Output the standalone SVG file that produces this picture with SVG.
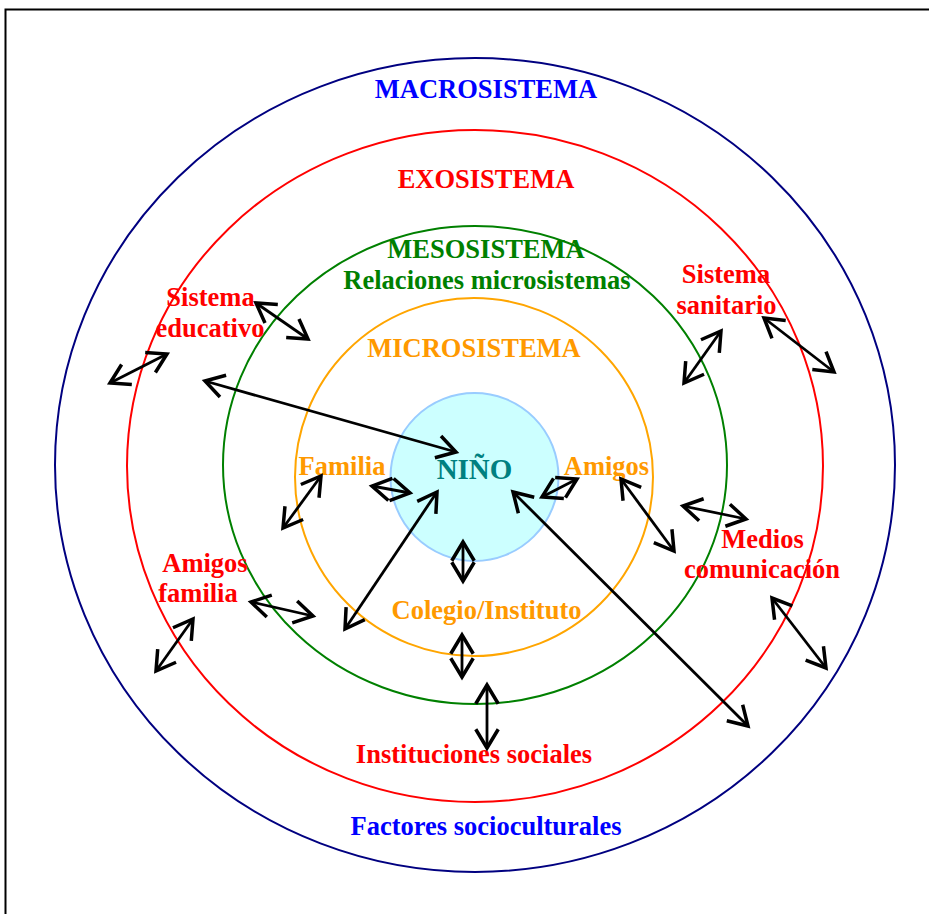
<svg xmlns="http://www.w3.org/2000/svg" width="929" height="914" viewBox="0 0 929 914">
<style>
text{font-family:"Liberation Serif","Times New Roman",serif;font-weight:bold;font-size:26.5px;text-anchor:middle}
.blue{fill:#0000ff}.red{fill:#ff0000}.green{fill:#008000}.orange{fill:#ff9900}.teal{fill:#008080;font-size:29px}
.ring{fill:none;stroke-width:2}
.arr{stroke:#000;stroke-width:2.8;fill:none;marker-start:url(#ah);marker-end:url(#ah)}
</style>
<defs>
<marker id="ah" markerUnits="userSpaceOnUse" markerWidth="30" markerHeight="30" viewBox="-20 -12 24 24" refX="0" refY="0" orient="auto-start-reverse">
<path d="M-15,-9 L0,0 L-15,9" fill="none" stroke="#000" stroke-width="2.8"/>
</marker>
</defs>
<rect x="0" y="0" width="929" height="914" fill="#fff"/>
<rect x="5.5" y="9.5" width="1000" height="1000" fill="none" stroke="#000" stroke-width="2"/>
<g id="macrosistema">
<ellipse class="ring" cx="475" cy="465" rx="420" ry="407" stroke="#000080"/>
<text class="blue" x="486" y="98">MACROSISTEMA</text>
<text class="blue" x="486" y="835">Factores socioculturales</text>
</g>
<g id="exosistema">
<ellipse class="ring" cx="475" cy="466" rx="348" ry="336" stroke="#ff0000"/>
<text class="red" x="486" y="188">EXOSISTEMA</text>
</g>
<g id="mesosistema">
<ellipse class="ring" cx="475" cy="465" rx="252" ry="239" stroke="#008000"/>
<text class="green" x="486" y="258">MESOSISTEMA</text>
<text class="green" x="487" y="289">Relaciones microsistemas</text>
</g>
<g id="microsistema">
<ellipse class="ring" cx="474" cy="477" rx="179" ry="179" stroke="#ffa500"/>
<text class="orange" x="474" y="357">MICROSISTEMA</text>
</g>
<g id="nino">
<circle cx="474.5" cy="477" r="84" fill="#ccffff" stroke="#99ccff" stroke-width="2"/>
<text class="teal" x="474.5" y="479">NIÑO</text>
</g>
<g id="familia"><text class="orange" x="342" y="475">Familia</text></g>
<g id="amigos"><text class="orange" x="606.5" y="475">Amigos</text></g>
<g id="colegio"><text class="orange" x="486.5" y="619">Colegio/Instituto</text></g>
<g id="sistema-educativo"><text class="red" x="210.5" y="306">Sistema</text><text class="red" x="210" y="337">educativo</text></g>
<g id="sistema-sanitario"><text class="red" x="726" y="283">Sistema</text><text class="red" x="726.5" y="314">sanitario</text></g>
<g id="amigos-familia"><text class="red" x="205" y="572">Amigos</text><text class="red" x="198" y="602">familia</text></g>
<g id="medios"><text class="red" x="762.5" y="548">Medios</text><text class="red" x="762" y="578">comunicación</text></g>
<g id="instituciones"><text class="red" x="474" y="763">Instituciones sociales</text></g>
<g id="connectors">
<line class="arr" x1="110" y1="383" x2="167" y2="354"/>
<line class="arr" x1="256" y1="303" x2="308" y2="339"/>
<line class="arr" x1="205" y1="381" x2="456" y2="452"/>
<line class="arr" x1="721" y1="331" x2="684" y2="383"/>
<line class="arr" x1="764" y1="318" x2="834" y2="372"/>
<line class="arr" x1="372" y1="486" x2="410" y2="493"/>
<line class="arr" x1="283" y1="528" x2="321" y2="476"/>
<line class="arr" x1="437" y1="492" x2="345" y2="629"/>
<line class="arr" x1="542" y1="497" x2="577" y2="479"/>
<line class="arr" x1="513" y1="492" x2="748" y2="726"/>
<line class="arr" x1="621" y1="479" x2="674" y2="551"/>
<line class="arr" x1="683" y1="506" x2="746" y2="519"/>
<line class="arr" x1="772" y1="598" x2="826" y2="668"/>
<line class="arr" x1="463" y1="542" x2="463" y2="581"/>
<line class="arr" x1="462" y1="635" x2="462" y2="677"/>
<line class="arr" x1="487" y1="685" x2="487" y2="748"/>
<line class="arr" x1="251" y1="602" x2="313" y2="616"/>
<line class="arr" x1="193" y1="619" x2="156" y2="671"/>
</g>
</svg>
